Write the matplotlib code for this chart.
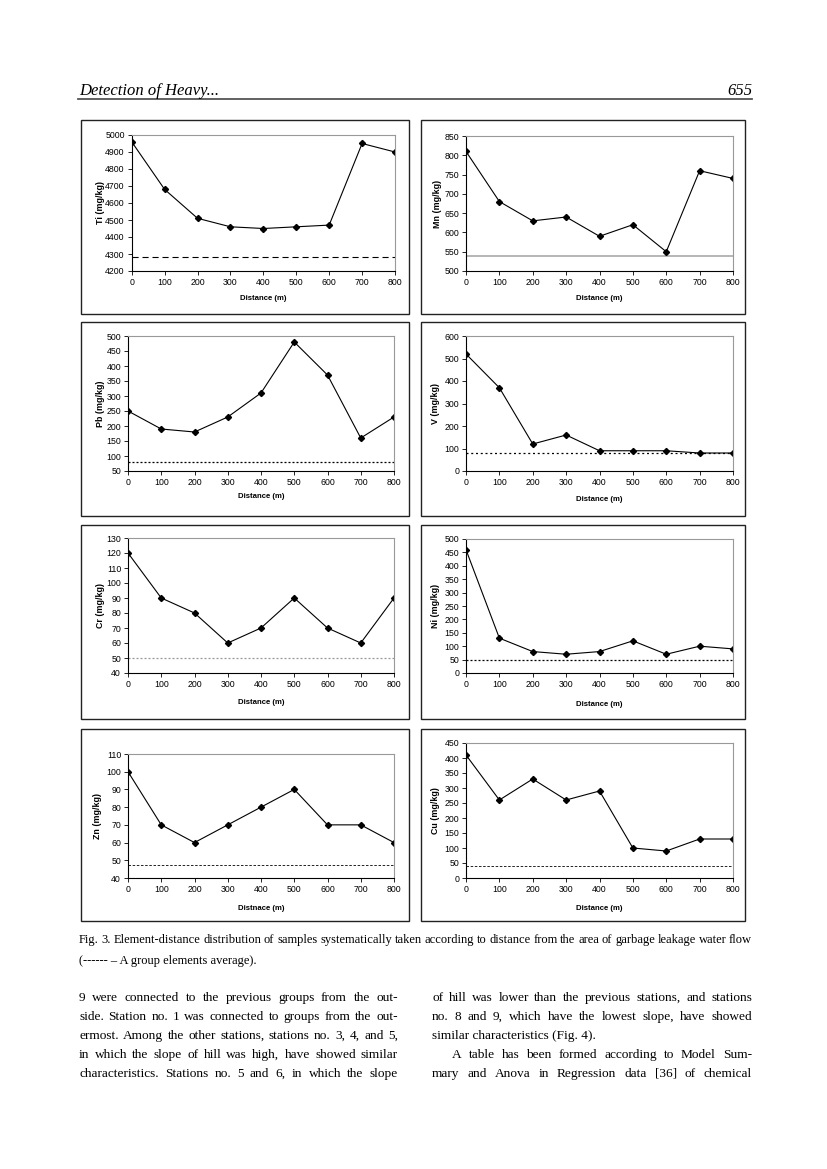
import matplotlib
matplotlib.use('Agg')
import matplotlib.pyplot as plt
from matplotlib.patches import Rectangle
from matplotlib.font_manager import FontProperties
from matplotlib.backends.backend_agg import get_hinting_flag

W, H = 827, 1169

distance = [0, 100, 200, 300, 400, 500, 600, 700, 800]

ti = [4960, 4680, 4510, 4460, 4450, 4460, 4470, 4950, 4900]
mn = [810, 680, 630, 640, 590, 620, 550, 760, 740]
pb = [250, 190, 180, 230, 310, 480, 370, 160, 230]
v = [520, 370, 120, 160, 90, 90, 90, 80, 80]
cr = [120, 90, 80, 60, 70, 90, 70, 60, 90]
ni = [460, 130, 80, 70, 80, 120, 70, 100, 90]
zn = [100, 70, 60, 70, 80, 90, 70, 70, 60]
cu = [410, 260, 330, 260, 290, 100, 90, 130, 130]

# group element averages (dashed lines)
avg_ti = 4280
avg_mn = 540
avg_pb = 80
avg_v = 80
avg_cr = 50
avg_ni = 50
avg_zn = 47.5
avg_cu = 40

# y axis ranges (min, max, step)
yr_ti = (4200, 5000, 100)
yr_mn = (500, 850, 50)
yr_pb = (50, 500, 50)
yr_v = (0, 600, 100)
yr_cr = (40, 130, 10)
yr_ni = (0, 500, 50)
yr_zn = (40, 110, 10)
yr_cu = (0, 450, 50)

sans = 'Liberation Sans'
serif = 'Liberation Serif'

fig = plt.figure(figsize=(8.27, 11.69), dpi=100)


def fx(x):
    return x / W


def fy(y):
    return 1 - y / H


def rect(x0, y0, x1, y1):
    return [fx(x0), fy(y1), (x1 - x0) / W, (y1 - y0) / H]


# outer frames around each chart
box_cols = [(81, 409), (421, 745)]
box_rows = [(120, 314), (322, 516), (525, 719), (729, 921)]
for (r0, r1) in box_rows:
    for (c0, c1) in box_cols:
        fig.add_artist(Rectangle((fx(c0), fy(r1)), (c1 - c0) / W, (r1 - r0) / H,
                                 transform=fig.transFigure, fill=False,
                                 edgecolor='#222222', lw=1.0))

panels = [
    (ti, avg_ti, yr_ti, 'Ti (mg/kg)', 'Distance (m)', (131.7, 135, 395, 271), 100.7, 298,
     dict(color='black', ls=(0, (5.5, 3.5)), lw=0.8)),
    (mn, avg_mn, yr_mn, 'Mn (mg/kg)', 'Distance (m)', (466, 136, 733, 271), 437, 298,
     dict(color='#b0b0b0', ls='-', lw=1.3)),
    (pb, avg_pb, yr_pb, 'Pb (mg/kg)', 'Distance (m)', (128, 336, 394, 471), 100.7, 496,
     dict(color='black', ls=(0, (1.6, 1.6)), lw=0.9)),
    (v, avg_v, yr_v, 'V (mg/kg)', 'Distance (m)', (466, 336, 733, 471), 435, 500,
     dict(color='black', ls=(0, (1.6, 2.2)), lw=0.9)),
    (cr, avg_cr, yr_cr, 'Cr (mg/kg)', 'Distance (m)', (128, 538, 394, 673), 100.7, 702,
     dict(color='#999999', ls=(0, (1.6, 1.6)), lw=0.9)),
    (ni, avg_ni, yr_ni, 'Ni (mg/kg)', 'Distance (m)', (466, 539, 733, 673), 436, 705,
     dict(color='black', ls=(0, (1.6, 1.6)), lw=0.9)),
    (zn, avg_zn, yr_zn, 'Zn (mg/kg)', 'Distnace (m)', (128, 754, 394, 878), 98, 908,
     dict(color='black', ls=(0, (3, 2)), lw=0.6)),
    (cu, avg_cu, yr_cu, 'Cu (mg/kg)', 'Distance (m)', (466, 743, 733, 878), 436, 908,
     dict(color='black', ls=(0, (3, 2)), lw=0.6)),
]

for vals, avg, (ymin, ymax, ystep), ylab, xlab, (x0, y0, x1, y1), ylx, xly, avg_style in panels:
    ax = fig.add_axes(rect(x0, y0, x1, y1))
    ax.axhline(avg, **avg_style)
    ax.plot(distance, vals, color='black', lw=0.8, marker='D', ms=3.1,
            markerfacecolor='black', markeredgecolor='black')
    ax.set_xlim(0, 800)
    ax.set_ylim(ymin, ymax)
    ax.set_xticks(distance)
    ax.set_yticks(list(range(ymin, ymax + 1, ystep)))
    ax.tick_params(direction='out', length=3, width=0.6, labelsize=6.3, pad=2,
                   colors='black')
    for lab in ax.get_xticklabels() + ax.get_yticklabels():
        lab.set_fontfamily(sans)
    for s in ['left', 'bottom']:
        ax.spines[s].set_color('black')
        ax.spines[s].set_linewidth(0.8)
    for s in ['top', 'right']:
        ax.spines[s].set_color('#999999')
        ax.spines[s].set_linewidth(0.8)
    ax.set_xlabel(xlab, fontsize=5.6, fontweight='bold', family=sans, va='center')
    ax.xaxis.set_label_coords(fx((x0 + x1) / 2), fy(xly), transform=fig.transFigure)
    ax.set_ylabel(ylab, fontsize=6.4, fontweight='bold', family=sans, va='center', ha='center')
    ax.yaxis.set_label_coords(fx(ylx), fy((y0 + y1) / 2), transform=fig.transFigure)

# page header
fig.text(fx(79), fy(95), 'Detection of Heavy...', family=serif, style='italic',
         fontsize=12, va='baseline', ha='left')
fig.text(fx(752), fy(95), '655', family=serif, style='italic',
         fontsize=12, va='baseline', ha='right')
fig.add_artist(plt.Line2D([fx(78), fx(752)], [fy(98.5), fy(98.5)],
                          transform=fig.transFigure, color='#555555', lw=1.3))

renderer = fig.canvas.get_renderer()


def baseline_shift(word, size):
    # Agg rounds each string's position by its own descent; work out the
    # pixel offset so all words of a line sit on one baseline
    try:
        font = renderer._prepare_font(FontProperties(family=serif, size=size))
        font.set_text(word, 0, flags=get_hinting_flag())
        h = font.get_width_height()[1] / 64.0
        d = font.get_descent() / 64.0
        top = h - d
        return round(d) + int(top) - int(top + d)
    except Exception:
        return 0


def justify(line, x0, x1, yb, size):
    words = line.split(' ')
    texts = [fig.text(0, fy(yb - baseline_shift(w, size)), w, family=serif,
                      fontsize=size, va='baseline') for w in words]
    widths = [t.get_window_extent(renderer).width for t in texts]
    gap = (x1 - x0 - sum(widths)) / max(len(words) - 1, 1)
    x = x0
    for t, w in zip(texts, widths):
        t.set_x(fx(x))
        x += w + gap


# caption
justify('Fig. 3. Element-distance distribution of samples systematically taken according '
        'to distance from the area of garbage leakage water flow', 79, 752, 943, 9.0)
fig.text(fx(79), fy(964), '(------ – A group elements average).', family=serif,
         fontsize=9.0, va='baseline')

# body text, two columns
left_lines = [
    '9 were connected to the previous groups from the out-',
    'side. Station no. 1 was connected to groups from the out-',
    'ermost. Among the other stations, stations no. 3, 4, and 5,',
    'in which the slope of hill was high, have showed similar',
    'characteristics. Stations no. 5 and 6, in which the slope',
]
baselines = [1001, 1020, 1039, 1058, 1077]
for line, yb in zip(left_lines, baselines):
    justify(line, 79, 398, yb, 9.6)

justify('of hill was lower than the previous stations, and stations', 432, 752, 1001, 9.6)
justify('no. 8 and 9, which have the lowest slope, have showed', 432, 752, 1020, 9.6)
fig.text(fx(432), fy(1039), 'similar characteristics (Fig. 4).', family=serif,
         fontsize=9.6, va='baseline')
justify('A table has been formed according to Model Sum-', 452, 752, 1058, 9.6)
justify('mary and Anova in Regression data [36] of chemical', 432, 752, 1077, 9.6)

fig.savefig('out.png', dpi=100)
